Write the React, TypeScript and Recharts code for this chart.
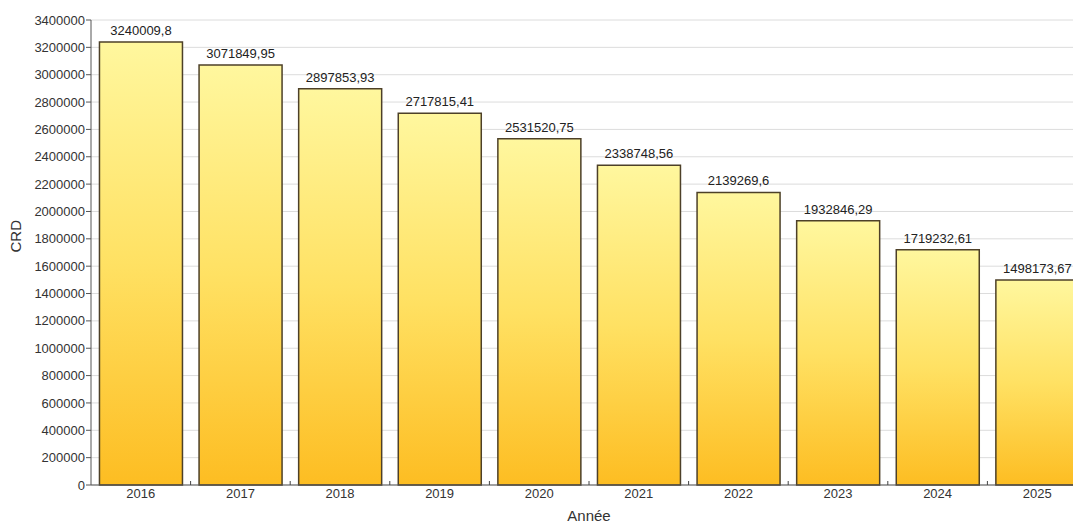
import { BarChart, Bar, XAxis, YAxis, CartesianGrid, LabelList } from 'recharts';

const YEARS = ['2016', '2017', '2018', '2019', '2020', '2021', '2022', '2023', '2024', '2025'];
const CRD = [
  3240009.8, 3071849.95, 2897853.93, 2717815.41, 2531520.75,
  2338748.56, 2139269.6, 1932846.29, 1719232.61, 1498173.67,
];
const Y_TICKS = [
  0, 200000, 400000, 600000, 800000, 1000000, 1200000, 1400000, 1600000,
  1800000, 2000000, 2200000, 2400000, 2600000, 2800000, 3000000, 3200000, 3400000,
];

const data = YEARS.map((year, i) => ({ year, crd: CRD[i] }));

const font = '"Liberation Sans", Arial, sans-serif';
const TICK_MARGIN = 4;

// year label plus the little upward tick on the right edge of each band
function YearTick(props: any) {
  const { x, y, payload } = props;
  const axisY = y - TICK_MARGIN;
  const edge = x + (payload.offset || 0);
  return (
    <g>
      <line x1={edge} x2={edge} y1={axisY - 4} y2={axisY} stroke="#444" />
      <text x={x} y={y} dy="0.71em" textAnchor="middle" fill="#333" fontSize={13} fontFamily={font}>
        {payload.value}
      </text>
    </g>
  );
}

export default function App() {
  return (
    <div
      style={{
        position: 'fixed',
        left: 0,
        top: 0,
        width: 1073,
        height: 524,
        overflow: 'hidden',
        background: '#fff',
        fontFamily: font,
      }}
    >
      <BarChart
        width={1096}
        height={524}
        data={data}
        margin={{ top: 20, right: 9, bottom: 0, left: 8 }}
        barCategoryGap="8.5%"
      >
        <defs>
          <linearGradient id="barFill" x1="0" y1="0" x2="0" y2="1">
            <stop offset="0%" stopColor="#fff79e" />
            <stop offset="50%" stopColor="#ffe163" />
            <stop offset="100%" stopColor="#fdbd22" />
          </linearGradient>
        </defs>
        <CartesianGrid vertical={false} stroke="#dcdcdc" />
        <XAxis
          dataKey="year"
          height={39}
          axisLine={{ stroke: '#555' }}
          tickLine={false}
          tickSize={0}
          tickMargin={TICK_MARGIN}
          tick={<YearTick />}
          label={{ value: 'Année', position: 'insideBottom', offset: 3, fill: '#333', fontSize: 15, fontFamily: font }}
        />
        <YAxis
          domain={[0, 3400000]}
          ticks={Y_TICKS}
          width={83}
          interval={0}
          tickSize={5}
          tickMargin={1}
          axisLine={{ stroke: '#555' }}
          tickLine={{ stroke: '#555' }}
          tick={{ fill: '#333', fontSize: 13, fontFamily: font }}
          label={{ value: 'CRD', angle: -90, position: 'insideLeft', offset: 8, fill: '#333', fontSize: 15, fontFamily: font }}
        />
        <Bar dataKey="crd" fill="url(#barFill)" stroke="#4d4028" strokeWidth={1.5} isAnimationActive={false}>
          <LabelList
            dataKey="crd"
            position="top"
            offset={7}
            formatter={(v: number) => String(v).replace('.', ',')}
            style={{ fill: '#222', fontSize: 13, fontFamily: font }}
          />
        </Bar>
      </BarChart>
    </div>
  );
}
